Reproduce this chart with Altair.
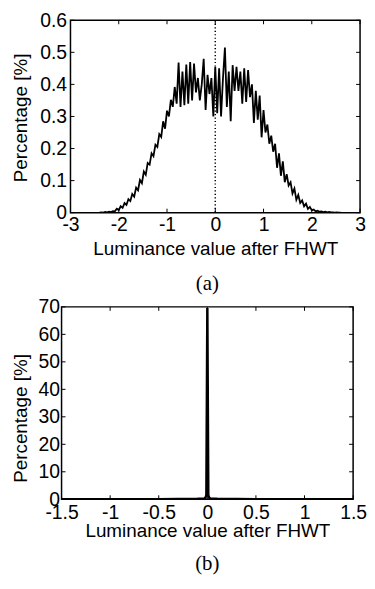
import altair as alt
import pandas as pd

# ---------------- data ----------------
# top panel: histogram of luminance after FHWT, bins of 0.04 starting at -2.40
TOP_BIN_START = -2.40
TOP_BIN_WIDTH = 0.04
TOP_PCT = [
    0.000, 0.001, 0.000, 0.002, 0.001, 0.003, 0.002, 0.005, 0.004, 0.012,
    0.008, 0.020, 0.015, 0.030, 0.024, 0.042, 0.036, 0.058, 0.050, 0.078,
    0.070, 0.102, 0.092, 0.128, 0.118, 0.155, 0.150, 0.185, 0.176, 0.212,
    0.205, 0.245, 0.236, 0.285, 0.262, 0.318, 0.300, 0.352, 0.330, 0.392,
    0.340, 0.468, 0.330, 0.440, 0.335, 0.462, 0.340, 0.470, 0.350, 0.465,
    0.375, 0.420, 0.350, 0.400, 0.480, 0.320, 0.430, 0.370, 0.420, 0.300,
    0.455, 0.310, 0.450, 0.300, 0.420, 0.515, 0.330, 0.440, 0.285, 0.460,
    0.380, 0.455, 0.380, 0.440, 0.340, 0.450, 0.345, 0.445, 0.360, 0.400,
    0.280, 0.380, 0.290, 0.365, 0.235, 0.320, 0.250, 0.275, 0.215, 0.240,
    0.190, 0.215, 0.140, 0.185, 0.115, 0.160, 0.095, 0.120, 0.085, 0.095,
    0.060, 0.075, 0.040, 0.055, 0.030, 0.038, 0.020, 0.028, 0.012, 0.018,
    0.007, 0.010, 0.004, 0.006, 0.003, 0.004, 0.002, 0.003, 0.001, 0.002,
    0.001, 0.001, 0.000, 0.001, 0.000, 0.000,
]
TOP_X = [round(TOP_BIN_START + TOP_BIN_WIDTH * i, 4) for i in range(len(TOP_PCT))]

# bottom panel: nearly everything in the zero bin
BOT_X = [-1.5, -1.0, -0.5, -0.3, -0.1, -0.03, -0.02, -0.01, 0.0, 0.01, 0.02, 0.03, 0.1, 0.3, 0.5, 1.0, 1.5]
BOT_PCT = [0.05, 0.05, 0.05, 0.1, 0.2, 0.3, 0.5, 1.5, 69.6, 1.5, 0.5, 0.3, 0.2, 0.1, 0.05, 0.05, 0.05]

TOP_XDOM = [-3, 3]
TOP_YDOM = [0, 0.6]
BOT_XDOM = [-1.5, 1.5]
BOT_YDOM = [0, 70]
TOP_XTICKS = [-3, -2, -1, 0, 1, 2, 3]
TOP_YTICKS = [0, 0.1, 0.2, 0.3, 0.4, 0.5, 0.6]
BOT_XTICKS = [-1.5, -1, -0.5, 0, 0.5, 1, 1.5]
BOT_YTICKS = [0, 10, 20, 30, 40, 50, 60, 70]
ZERO_LINE = [0.0]

X_TITLE = "Luminance value after FHWT"
Y_TITLE = "Percentage [%]"

SANS = "Liberation Sans"
SERIF = "Liberation Serif"
LABEL_FS = 19.5
TITLE_FS = 19
LABEL_EXPR = "toString(datum.value)"


def panel(xs_vals, ys_vals, xdom, ydom, xticks, yticks, W, H, inset, ylab_pad,
          ytitle_x, ytitle_y, xlab_pad, xtitle_y, caption, cap_offset, cap_dx, lw,
          dotted_zero):
    VW = W + inset
    xs = alt.Scale(domain=xdom, nice=False, zero=False, range=[inset, VW])
    ys = alt.Scale(domain=ydom, nice=False, zero=False)
    xaxis = alt.Axis(values=xticks, title=X_TITLE, ticks=False, domain=False,
                     grid=False, labelFlush=False, labelOverlap=False, labelExpr=LABEL_EXPR,
                     labelFont=SANS, labelFontSize=LABEL_FS, labelColor="black",
                     labelBaseline="alphabetic", labelPadding=xlab_pad,
                     titleFont=SANS, titleFontSize=TITLE_FS, titleFontWeight="normal",
                     titleColor="black", titleBaseline="alphabetic", titleY=xtitle_y)
    yaxis = alt.Axis(values=yticks, title=Y_TITLE, ticks=False, domain=False,
                     grid=False, labelFlush=False, labelOverlap=False, labelExpr=LABEL_EXPR,
                     labelFont=SANS, labelFontSize=LABEL_FS, labelColor="black",
                     labelPadding=ylab_pad, offset=-inset,
                     titleFont=SANS, titleFontSize=TITLE_FS, titleFontWeight="normal",
                     titleColor="black", titleX=ytitle_x, titleY=ytitle_y)
    X = lambda f: alt.X(f, scale=xs, axis=xaxis)
    Y = lambda f: alt.Y(f, scale=ys, axis=yaxis)
    df = pd.DataFrame({"x": xs_vals, "y": ys_vals})
    layers = [
        alt.Chart(df).mark_line(color="black", strokeWidth=lw, clip=True).encode(
            x=X("x:Q"), y=Y("y:Q")
        )
    ]
    if dotted_zero:
        layers.append(
            alt.Chart(pd.DataFrame({"x": ZERO_LINE})).mark_rule(
                color="black", strokeWidth=1.5, strokeDash=[1.2, 2.3]
            ).encode(x=X("x:Q"))
        )
    # frame of the plot area, from the axis domains
    frame = pd.DataFrame({"x": [xdom[0]], "x2": [xdom[1]], "y": [ydom[0]], "y2": [ydom[1]]})
    layers.append(
        alt.Chart(frame).mark_rect(fillOpacity=0, stroke="black", strokeWidth=1.5).encode(
            x=X("x:Q"), x2="x2:Q", y=Y("y:Q"), y2="y2:Q"
        )
    )
    xt = pd.DataFrame({"x": xticks})
    yt = pd.DataFrame({"y": yticks})
    tick = dict(color="black", strokeWidth=1)
    layers += [
        alt.Chart(xt).mark_rule(**tick).encode(x=X("x:Q"), y=alt.value(H - 4), y2=alt.value(H)),
        alt.Chart(xt).mark_rule(**tick).encode(x=X("x:Q"), y=alt.value(0), y2=alt.value(4)),
        alt.Chart(yt).mark_rule(**tick).encode(y=Y("y:Q"), x=alt.value(inset), x2=alt.value(inset + 4)),
        alt.Chart(yt).mark_rule(**tick).encode(y=Y("y:Q"), x=alt.value(VW - 4), x2=alt.value(VW)),
    ]
    return alt.layer(*layers).properties(
        width=VW, height=H,
        title=alt.TitleParams(caption, orient="bottom", anchor="middle", font=SERIF,
                              fontSize=21, fontWeight="normal", color="black",
                              offset=cap_offset, dx=cap_dx),
    )


top = panel(TOP_X, TOP_PCT, TOP_XDOM, TOP_YDOM, TOP_XTICKS, TOP_YTICKS, 292, 194,
            inset=9, ylab_pad=4, ytitle_x=-40, ytitle_y=98, xlab_pad=18, xtitle_y=42,
            caption="(a)", cap_offset=14.5, cap_dx=-3.5, lw=1.8, dotted_zero=True)
bot = panel(BOT_X, BOT_PCT, BOT_XDOM, BOT_YDOM, BOT_XTICKS, BOT_YTICKS, 294, 194,
            inset=0, ylab_pad=2, ytitle_x=-31, ytitle_y=112, xlab_pad=19, xtitle_y=38,
            caption="(b)", cap_offset=12.5, cap_dx=0, lw=2.5, dotted_zero=False)

chart = alt.vconcat(top, bot, spacing=95, bounds="flush").properties(
    padding={"left": 4, "top": 0, "right": 0, "bottom": 0},
    background="white",
).configure_view(stroke=None)

chart.save("out.html", embed_options={"renderer": "svg", "actions": False})
